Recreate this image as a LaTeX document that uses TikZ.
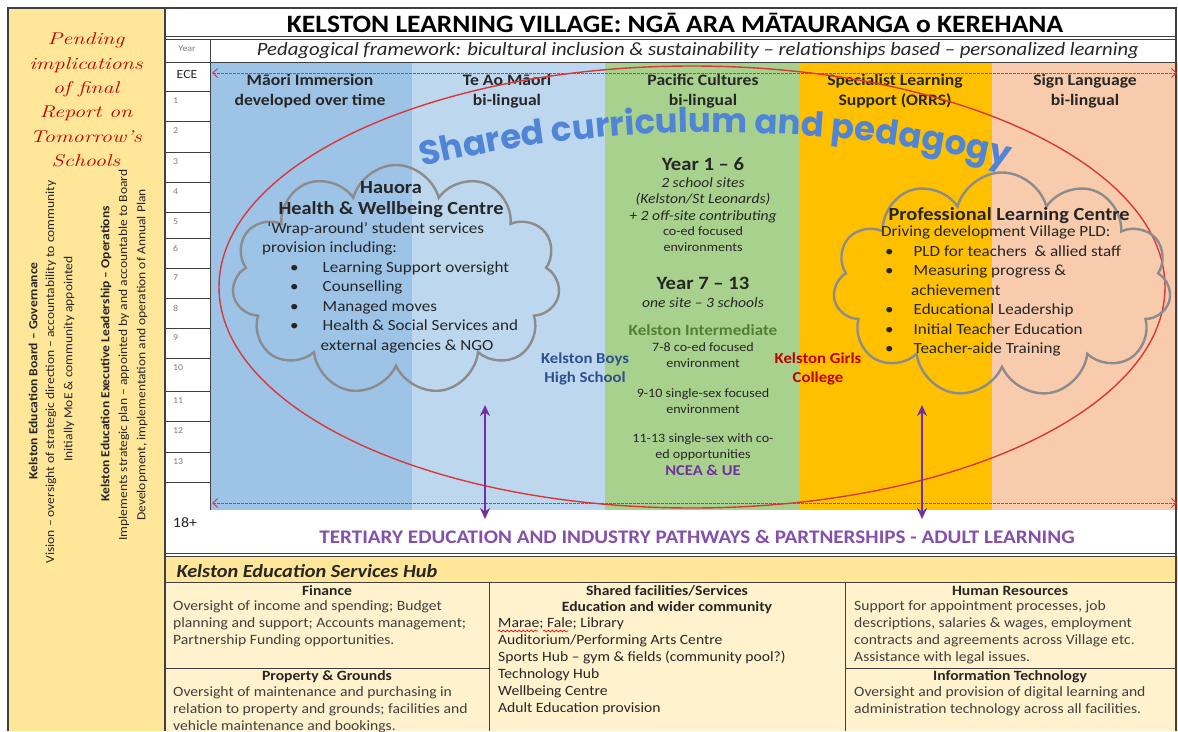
\documentclass[tikz,border=0pt]{standalone}
\usepackage{fontspec}
\setmainfont{Carlito}[FakeStretch=1.1]
\newfontfamily\pendfont{Latin Modern Roman}[FakeStretch=1.3]
\newfontfamily\poppins{Poppins}
\usetikzlibrary{shapes.symbols,arrows.meta,decorations.text,decorations.pathmorphing}
\definecolor{panelyel}{HTML}{FFE699}
\definecolor{hubcell}{HTML}{FFF2CC}
\definecolor{colA}{HTML}{9DC3E6}
\definecolor{colB}{HTML}{BDD7EE}
\definecolor{colC}{HTML}{A9D18E}
\definecolor{colD}{HTML}{FFC000}
\definecolor{colE}{HTML}{F8CBAD}
\definecolor{ellred}{HTML}{D9383A}
\definecolor{purp}{HTML}{7030A0}
\definecolor{cloudgray}{HTML}{8C8C8C}
\definecolor{sharedblue}{HTML}{4F84D6}
\definecolor{framegray}{HTML}{404040}
\definecolor{boysblue}{HTML}{2F4F8F}
\definecolor{girlsred}{HTML}{C00000}
\definecolor{intergreen}{HTML}{4F7F33}
\definecolor{txt}{HTML}{262626}
\definecolor{hubtxt}{HTML}{404040}
\begin{document}
\begin{tikzpicture}[x=1pt,y=-1pt,
  frame/.style={draw=framegray,line width=1.2pt},
  thin/.style={draw=framegray,line width=0.9pt},
  colhead/.style={font=\bfseries\fontsize{16}{20}\selectfont,align=center,text=txt,inner sep=0pt},
  yrnum/.style={font=\fontsize{9}{10}\selectfont,text=gray,anchor=west,inner sep=0pt},
  cloudbox/.style={cloud,cloud puffs=11,cloud ignores aspect,draw=cloudgray,line width=2.4pt},
  cloudtxt/.style={font=\fontsize{15.5}{19.5}\selectfont,align=left,text=txt,inner sep=0pt,anchor=north west},
  midtxt/.style={font=\fontsize{12.8}{16}\selectfont,align=center,text=txt,inner sep=0pt},
  midital/.style={font=\itshape\fontsize{14.2}{16.5}\selectfont,align=center,text=txt,inner sep=0pt},
  midbig/.style={font=\bfseries\fontsize{18.8}{20}\selectfont,text=txt,inner sep=0pt},
  dasharrow/.style={draw=ellred,line width=0.9pt,dash pattern=on 2.5pt off 1.5pt,{Straight Barb[length=5pt,width=9pt]}-{Straight Barb[length=5pt,width=9pt]}},
  purparrow/.style={draw=purp,line width=2.6pt,{Stealth[length=11pt,width=10pt]}-{Stealth[length=11pt,width=10pt]}},
  hubhead/.style={font=\bfseries\fontsize{14.2}{17}\selectfont,text=txt,inner sep=0pt},
  hubbody/.style={font=\fontsize{14.2}{17}\selectfont,align=left,text=hubtxt,inner sep=0pt,anchor=north west},
  sidetxt/.style={rotate=90,font=\fontsize{12.3}{13}\selectfont,text=txt,inner sep=0pt},
  squiggle/.style={draw=red,line width=0.7pt,decorate,decoration={snake,amplitude=0.9pt,segment length=4pt}}
]
\useasboundingbox (0,0) rectangle (1178,731);
% backgrounds
\fill[white] (0,0) rectangle (1178,731);
\fill[panelyel] (8,8) rectangle (165,731);
\fill[colA] (210,62) rectangle (412,510);
\fill[colB] (412,62) rectangle (605,510);
\fill[colC] (605,62) rectangle (800,510);
\fill[colD] (800,62) rectangle (992,510);
\fill[colE] (992,62) rectangle (1178,510);
\fill[panelyel] (165,556) rectangle (1178,582);
\fill[hubcell] (165,582) rectangle (1178,731);
% frame lines
\draw[frame] (8,731) -- (8,8) -- (1176,8) -- (1176,731);
\draw[frame] (165,8) -- (165,731);
\draw[thin] (165,36) -- (1176,36);
\draw[thin] (165,39.5) -- (1176,39.5);
\draw[thin] (165,62) -- (1176,62);
\draw[thin] (165,553) -- (1176,553);
\draw[thin] (165,556.5) -- (1176,556.5);
\draw[thin] (165,582) -- (1176,582);
\draw[thin] (489,582) -- (489,731);
\draw[thin] (845,582) -- (845,731);
\draw[thin] (165,668) -- (489,668);
\draw[thin] (845,668) -- (1176,668);
% year column
\draw[thin] (210,39.5) -- (210,510);
\foreach \yy in {91,121,152,182,212,238,268,298,328,358,391,421,452,482}
  \draw[thin] (165,\yy) -- (210,\yy);
\node[font=\fontsize{9}{10}\selectfont,text=gray] (yearlbl) at (187,49) {Year};
\node[font=\fontsize{12.5}{13}\selectfont,text=txt] (ecelbl) at (187,74) {ECE};
\foreach \n/\yy in {1/91,2/121,3/152,4/182,5/212,6/238,7/268,8/298,9/328,10/358,11/391,12/421,13/452}
  \node[yrnum] (yr\n) at (173,\yy+10) {\n};
\node[font=\fontsize{14.5}{15}\selectfont,text=txt] (adult) at (185,523) {18+};
% title
\node[font=\bfseries\fontsize{25}{26}\selectfont,text=black] (title) at (675,23) {KELSTON LEARNING VILLAGE: NGĀ ARA MĀTAURANGA o KEREHANA};
\node[font=\itshape\fontsize{18.8}{19}\selectfont,text=txt] (subtitle) at (698,51) {Pedagogical framework: bicultural inclusion \& sustainability – relationships based – personalized learning};
% column headers
\node[colhead] (h1) at (310,91) {Māori Immersion\\developed over time};
\node[colhead] (h2) at (507,91) {Te Ao Māori\\bi-lingual};
\node[colhead] (h3) at (703,91) {Pacific Cultures\\bi-lingual};
\node[colhead] (h4) at (895,91) {Specialist Learning\\Support (ORRS)};
\node[colhead] (h5) at (1085,91) {Sign Language\\bi-lingual};
% dashed arrows
\coordinate (dtl) at (212,73);
\coordinate (dtr) at (1177,73);
\coordinate (dbl) at (212,503);
\coordinate (dbr) at (1177,503);
\draw[dasharrow] (dtl) -- (dtr);
\draw[dasharrow] (dbl) -- (dbr);
% ellipse
\draw[ellred,line width=1.4pt] (692,287) ellipse [x radius=473, y radius=221];
% shared curriculum
\path[postaction={decorate},decoration={text along path,text align=center,text color=sharedblue,
  text={|\poppins\bfseries\fontsize{34}{34}\selectfont|Shared curriculum and pedagogy}}]
  (410,170) .. controls (600,120) and (830,120) .. (1020,170);
% clouds
\node[cloudbox,minimum width=328pt,minimum height=230pt] (hcloud) at (396,280) {};
\node[cloudbox,minimum width=338pt,minimum height=225pt] (pcloud) at (1002,285) {};
\node[font=\bfseries\fontsize{18.5}{20}\selectfont,text=txt] (hau1) at (391,188) {Hauora};
\node[font=\bfseries\fontsize{18.5}{20}\selectfont,text=txt] (hau2) at (391,210) {Health \& Wellbeing Centre};
\node[cloudtxt] (haulist) at (262,222) {\hspace*{5pt}‘Wrap-around’ student services\\provision including:\\
\hspace*{28pt}\textbullet\hspace{24pt}Learning Support oversight\\
\hspace*{28pt}\textbullet\hspace{24pt}Counselling\\
\hspace*{28pt}\textbullet\hspace{24pt}Managed moves\\
\hspace*{28pt}\textbullet\hspace{24pt}Health \& Social Services and\\
\hspace*{58.5pt}external agencies \& NGO};
\node[font=\bfseries\fontsize{18.5}{20}\selectfont,text=txt,anchor=west] (plc) at (885,216) {Professional Learning Centre};
\node[cloudtxt] (plclist) at (881,226) {Driving development Village PLD:\\
\hspace*{4pt}\textbullet\hspace{20pt}PLD for teachers \ \& allied staff\\
\hspace*{4pt}\textbullet\hspace{20pt}Measuring progress \&\\
\hspace*{30pt}achievement\\
\hspace*{4pt}\textbullet\hspace{20pt}Educational Leadership\\
\hspace*{4pt}\textbullet\hspace{20pt}Initial Teacher Education\\
\hspace*{4pt}\textbullet\hspace{20pt}Teacher-aide Training};
% middle column
\node[midbig] (y16) at (703,164) {Year 1 – 6};
\node[midital] (y16a) at (703,200) {2 school sites\\(Kelston/St Leonards)\\+ 2 off-site contributing};
\node[midtxt] (y16b) at (703,239) {co-ed focused\\environments};
\node[midbig] (y713) at (703,283) {Year 7 – 13};
\node[midital] (y713a) at (703,303) {one site – 3 schools};
\node[font=\bfseries\fontsize{15.5}{16}\selectfont,text=intergreen] (inter) at (703,330) {Kelston Intermediate};
\node[midtxt] (i78) at (703,355) {7-8 co-ed focused\\environment};
\node[midtxt] (i910) at (703,401) {9-10 single-sex focused\\environment};
\node[midtxt] (i1113) at (703,447) {11-13 single-sex with co-\\ed opportunities};
\node[font=\bfseries\fontsize{15}{16}\selectfont,text=purp] (ncea) at (703,470) {NCEA \& UE};
\node[font=\bfseries\fontsize{15.2}{19}\selectfont,text=boysblue,align=center] (boys) at (585,369) {Kelston Boys\\High School};
\node[font=\bfseries\fontsize{15.2}{19}\selectfont,text=girlsred,align=center] (girls) at (818,369) {Kelston Girls\\College};
% purple arrows
\coordinate (pa1t) at (485,405);
\coordinate (pa1b) at (485,519);
\coordinate (pa2t) at (922,405);
\coordinate (pa2b) at (922,519);
\draw[purparrow] (pa1t) -- (pa1b);
\draw[purparrow] (pa2t) -- (pa2b);
\node[font=\bfseries\fontsize{19.2}{20}\selectfont,text=purp!85!white] (tert) at (697,537) {TERTIARY EDUCATION AND INDUSTRY PATHWAYS \& PARTNERSHIPS - ADULT LEARNING};
% hub
\node[font=\bfseries\itshape\fontsize{18.5}{19}\selectfont,text=txt,anchor=west] (hub) at (173,571) {Kelston Education Services Hub};
\node[hubhead] (fin) at (327,591) {Finance};
\node[hubbody] (finb) at (173,600) {Oversight of income and spending; Budget\\planning and support; Accounts management;\\Partnership Funding opportunities.};
\node[hubhead] (prop) at (327,677) {Property \& Grounds};
\node[hubbody] (propb) at (173,686) {Oversight of maintenance and purchasing in\\relation to property and grounds; facilities and\\vehicle maintenance and bookings.};
\node[hubhead] (shf) at (667,591) {Shared facilities/Services};
\node[hubhead] (edw) at (667,608) {Education and wider community};
\node[hubbody,text=txt] (shb) at (498,617) {Marae; Fale; Library\\Auditorium/Performing Arts Centre\\Sports Hub – gym \& fields (community pool?)\\Technology Hub\\Wellbeing Centre\\Adult Education provision};
\coordinate (sq1a) at (498,631);
\coordinate (sq1b) at (538,631);
\coordinate (sq2a) at (543,631);
\coordinate (sq2b) at (568,631);
\draw[squiggle] (sq1a) -- (sq1b);
\draw[squiggle] (sq2a) -- (sq2b);
\node[hubhead] (hr) at (1010,591) {Human Resources};
\node[hubbody] (hrb) at (854,600) {Support for appointment processes, job\\descriptions, salaries \& wages, employment\\contracts and agreements across Village etc.\\Assistance with legal issues.};
\node[hubhead] (it) at (1010,677) {Information Technology};
\node[hubbody] (itb) at (854,686) {Oversight and provision of digital learning and\\administration technology across all facilities.};
% left panel
\node[font=\pendfont\itshape\fontsize{17}{24.3}\selectfont,text=girlsred,align=center] (pend) at (86,100) {Pending\\implications\\of final\\Report on\\Tomorrow’s\\Schools};
\node[sidetxt,font=\bfseries\fontsize{12.3}{13}\selectfont] (gov1) at (33,371) {Kelston Education Board – Governance};
\node[sidetxt] (gov2) at (51,372) {Vision – oversight of strategic direction – accountability to community};
\node[sidetxt] (gov3) at (69,359) {Initially MoE \& community appointed};
\node[sidetxt,font=\bfseries\fontsize{12.3}{13}\selectfont] (ops1) at (106,354) {Kelston Education Executive Leadership – Operations};
\node[sidetxt] (ops2) at (124,355) {Implements strategic plan – appointed by and accountable to Board};
\node[sidetxt] (ops3) at (142,355) {Development, implementation and operation of Annual Plan};
\end{tikzpicture}
\end{document}
